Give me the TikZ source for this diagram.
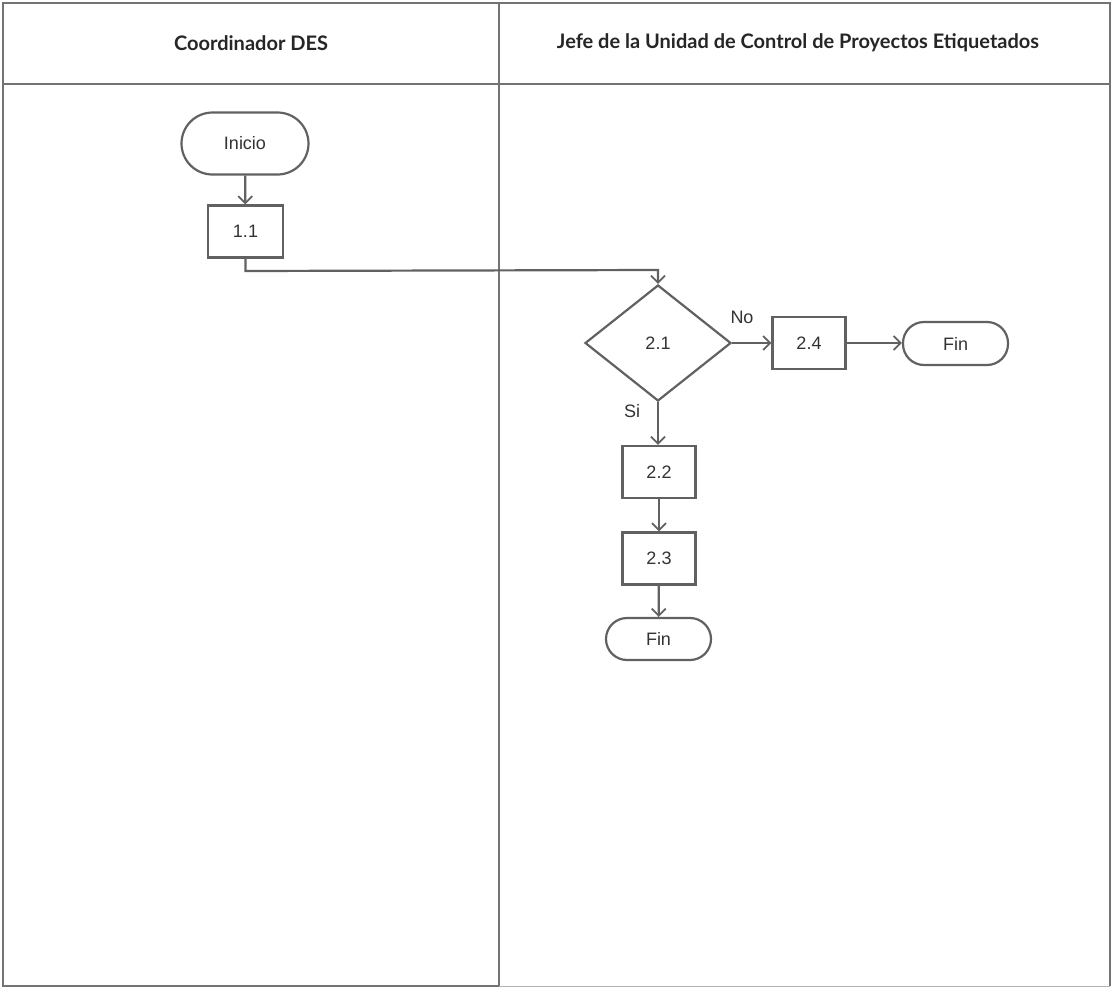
\documentclass[tikz,border=0pt]{standalone}
\usepackage{fontspec}
\setmainfont{Liberation Sans}
\newfontfamily\headfont{Lato}
\usetikzlibrary{shapes.geometric,arrows.meta}
\begin{document}
\begin{tikzpicture}[x=1pt,y=-1pt,
  lane/.style={draw=black!55,line width=2.5pt},
  proc/.style={draw=black!62,line width=2.2pt,minimum width=73pt,minimum height=52pt,inner sep=0pt,font=\fontsize{18}{20}\selectfont,text=black!80},
  term/.style={draw=black!62,line width=2.2pt,rounded corners=21pt,minimum width=105pt,minimum height=43pt,inner sep=0pt,font=\fontsize{18}{20}\selectfont,text=black!80},
  decision/.style={draw=black!62,line width=2.2pt,diamond,aspect=1.26,minimum width=146pt,minimum height=116pt,inner sep=0pt,font=\fontsize{18}{20}\selectfont,text=black!80},
  flow/.style={draw=black!62,line width=2.2pt,-{Straight Barb[length=7pt,width=14pt,line width=1.8pt]}},
  lbl/.style={font=\fontsize{18}{20}\selectfont,text=black!80},
  head/.style={font=\headfont\bfseries\fontsize{20}{22}\selectfont,text=black!85}]
\useasboundingbox (0,0) rectangle (1112,988);
\fill[white] (0,0) rectangle (1112,988);
% swimlanes
\draw[lane] (3,3) rectangle (499,986);
\draw[lane] (499,3) -- (1110,3) -- (1110,986);
\draw[draw=black!30,line width=1.5pt] (499,986.5) -- (1110,986.5);
\draw[lane] (3,84) -- (1110,84);
\node[head] (h1) at (251,43) {Coordinador DES};
\node[head] (h2) at (798,43) {Jefe de la Unidad de Control de Proyectos Etiquetados};
% nodes
\node[term,minimum width=127pt,minimum height=62pt,rounded corners=31pt] (inicio) at (245,143.5) {Inicio};
\node[proc,minimum width=75pt] (p11) at (245.5,231.5) {1.1};
\node[decision] (d21) at (658,343) {2.1};
\node[proc] (p24) at (809,343) {2.4};
\node[term] (fin1) at (955.5,343.5) {Fin};
\node[proc] (p22) at (659,472) {2.2};
\node[proc] (p23) at (659,558.5) {2.3};
\node[term,minimum height=42pt] (fin2) at (658.5,639) {Fin};
% connectors
\coordinate (k1) at (245.5,271);
\coordinate (k2) at (658,270);
\draw[flow] (inicio) -- (p11);
\draw[flow] (p11.south) -- (k1) -- (k2) -- (d21.north);
\draw[flow] (d21.east) -- (p24.west);
\draw[flow] (p24.east) -- (p24.east -| fin1.west);
\draw[flow] (d21.south) -- (p22.north -| d21.south);
\draw[flow] (p22) -- (p23);
\draw[flow] (p23) -- (fin2);
\node[lbl] (no) at (742,317) {No};
\node[lbl] (si) at (632,411) {Si};
\end{tikzpicture}
\end{document}
